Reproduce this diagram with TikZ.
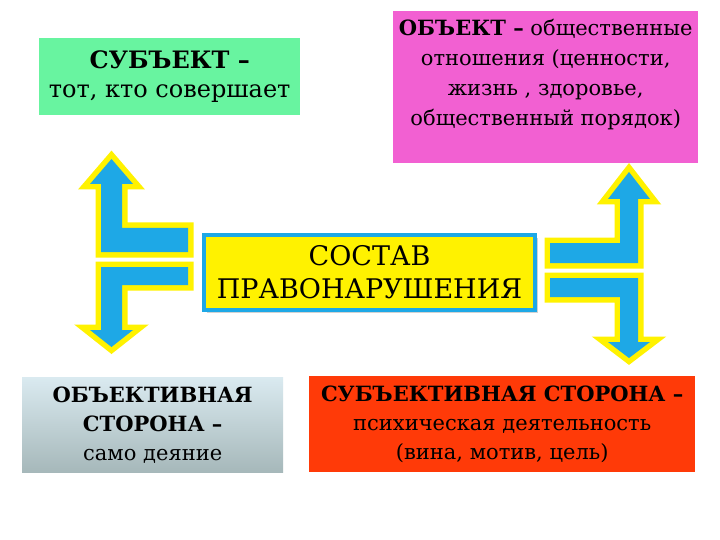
\documentclass[tikz,border=0pt]{standalone}
\usepackage{fontspec}
\setmainfont{DejaVu Serif}
\usetikzlibrary{positioning, shadows}
\definecolor{subjgreen}{RGB}{104,244,160}
\definecolor{objpink}{RGB}{242,96,210}
\definecolor{sidered}{RGB}{255,58,8}
\definecolor{arrowblue}{RGB}{30,168,230}
\definecolor{arrowyellow}{RGB}{255,242,0}
\definecolor{graytop}{RGB}{218,234,240}
\definecolor{graybot}{RGB}{166,184,186}
\tikzset{
    box/.style={rectangle, inner sep=0pt, anchor=north west},
    boxtext/.style={align=center, inner sep=0pt},
    blockarrow/.style={fill=arrowblue, preaction={draw=arrowyellow, line width=11pt, line join=miter}},
}

\begin{document}
\begin{tikzpicture}[x=1pt, y=-1pt]
    \useasboundingbox[fill=white] (0,0) rectangle (720,540);
    % boxes
    \node[box, fill=subjgreen, minimum width=261pt, minimum height=77pt] (subj) at (39,38) {};
    \node[box, fill=objpink, minimum width=305pt, minimum height=152pt] (obj) at (393,11) {};
    \node[box, top color=graytop, bottom color=graybot, minimum width=261pt, minimum height=95pt] (objside) at (22,377) {};
    \node[box, fill=sidered, minimum width=386pt, minimum height=96pt] (subjside) at (309,376) {};
    \node[rectangle, draw=arrowblue, line width=4pt, fill=yellow, minimum width=331pt, minimum height=75pt,
        drop shadow={opacity=0.35, shadow xshift=3pt, shadow yshift=-3pt},
        align=center, font=\fontsize{27}{33}\selectfont] (core) at (369.5,272.5) {СОСТАВ\\ПРАВОНАРУШЕНИЯ};
    % texts
    \node[boxtext, font=\fontsize{24}{29}\selectfont] (subjtext) at (subj.center) {\textbf{СУБЪЕКТ –}\\тот, кто совершает};
    \node[boxtext, anchor=north, font=\fontsize{21}{30}\selectfont, below=8pt of obj.north] (objtext) {\textbf{ОБЪЕКТ –} общественные\\отношения (ценности,\\жизнь , здоровье,\\общественный порядок)};
    \node[boxtext, font=\fontsize{21}{29}\selectfont] (objsidetext) at (objside.center) {\textbf{ОБЪЕКТИВНАЯ}\\\textbf{СТОРОНА –}\\само деяние};
    \node[boxtext, font=\fontsize{21}{29}\selectfont] (subjsidetext) at (subjside.center) {\textbf{СУБЪЕКТИВНАЯ СТОРОНА –}\\психическая деятельность\\(вина, мотив, цель)};
    % arrows
    \fill[blockarrow] (188,228) -- (122,228) -- (122,184) -- (133,184) -- (111.5,159) -- (90,184) -- (101,184) -- (101,252) -- (188,252) -- cycle;
    \fill[blockarrow] (188,267) -- (101,267) -- (101,330) -- (90,330) -- (111.5,347) -- (133,330) -- (122,330) -- (122,285) -- (188,285) -- cycle;
    \fill[blockarrow] (550,243) -- (620,243) -- (620,199) -- (608,199) -- (629,172) -- (650,199) -- (638,199) -- (638,263) -- (550,263) -- cycle;
    \fill[blockarrow] (550,278) -- (638,278) -- (638,342) -- (650,342) -- (629,358) -- (608,342) -- (620,342) -- (620,297) -- (550,297) -- cycle;
\end{tikzpicture}
\end{document}
